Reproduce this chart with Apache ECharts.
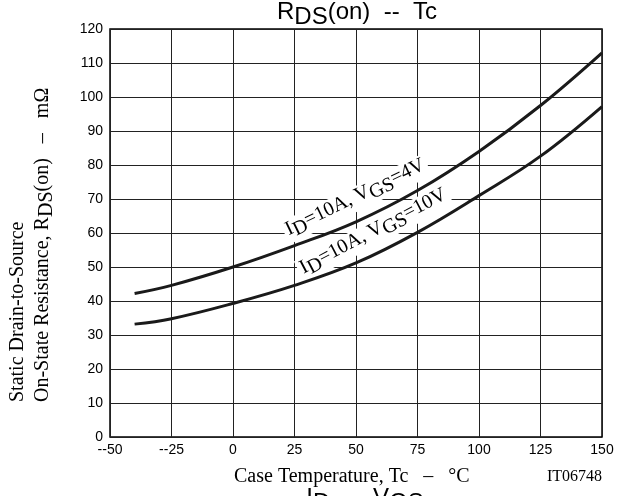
<!DOCTYPE html>
<html><head><meta charset="utf-8">
<script src="https://cdn.jsdelivr.net/npm/echarts@6/dist/echarts.min.js"></script>
<style>html,body{margin:0;padding:0;background:#fff}#c{width:627px;height:496px}</style>
</head><body><div id="c"></div>
<script>
// Data
const tempC   = [-40, -25, 0, 25, 50, 75, 100, 125, 150];
const rds4V   = [42.2, 44.6, 50, 56.3, 63.3, 72.5, 84, 97.5, 113];
const rds10V  = [33.2, 34.8, 39.3, 44.6, 51.2, 60.2, 71, 82.6, 97.2];
const xTickValues = [-50, -25, 0, 25, 50, 75, 100, 125, 150];
const xTickLabels = ['--50', '--25', '0', '25', '50', '75', '100', '125', '150'];
const yTickValues = [0, 10, 20, 30, 40, 50, 60, 70, 80, 90, 100, 110, 120];

const SERIF = '"Liberation Serif", "Times New Roman", serif';
const SANS = '"Liberation Sans", Arial, sans-serif';

function pairs(xs, ys) { return xs.map((x, i) => [x, ys[i]]); }

const chart = echarts.init(document.getElementById('c'), null, { renderer: 'canvas' });

const subRich = (size, font, shift) => ({
  n: { fontSize: size, fontFamily: font, color: '#000', padding: [0, 0, shift, 0] },
  s: { fontSize: size, fontFamily: font, color: '#000', padding: [shift, 0, 0, 0] }
});

chart.setOption({
  animation: false,
  backgroundColor: '#fff',
  grid: { left: 110, right: 25, top: 29, bottom: 59, show: true, borderColor: '#000', borderWidth: 1.5, containLabel: false },
  xAxis: {
    type: 'value', min: -50, max: 150, interval: 25,
    axisLine: { show: false }, axisTick: { show: false },
    splitLine: { show: true, lineStyle: { color: '#222', width: 1 } },
    axisLabel: {
      margin: 6, color: '#000', fontSize: 14, fontFamily: SANS,
      formatter: v => xTickLabels[xTickValues.indexOf(v)]
    }
  },
  yAxis: {
    type: 'value', min: 0, max: 120, interval: 10,
    axisLine: { show: false }, axisTick: { show: false },
    splitLine: { show: true, lineStyle: { color: '#222', width: 1 } },
    axisLabel: { margin: 7, color: '#000', fontSize: 14, fontFamily: SANS,
      formatter: v => String(yTickValues[yTickValues.indexOf(v)]) }
  },
  series: [
    { type: 'line', data: pairs(tempC, rds4V), smooth: 0.4, showSymbol: false, z: 5,
      lineStyle: { color: '#1a1a1a', width: 3 } },
    { type: 'line', data: pairs(tempC, rds10V), smooth: 0.4, showSymbol: false, z: 5,
      lineStyle: { color: '#1a1a1a', width: 3 } }
  ],
  graphic: [
    { type: 'text', x: 357, y: 0, z: 100,
      style: { text: '{n|R}{s|DS}{n|(on)  --  Tc}', align: 'center', verticalAlign: 'top',
        rich: subRich(24, SANS, 5) } },
    { type: 'text', x: 356, y: 199, rotation: 25.8 * Math.PI / 180, z: 1,
      style: { text: '{n|I}{s|D}{n|=10A, V}{s|GS}{n|=4V}', align: 'center', verticalAlign: 'middle',
        backgroundColor: '#fff', padding: [0, 3],
        rich: subRich(20, SERIF, 4) } },
    { type: 'text', x: 374, y: 233, rotation: 27.7 * Math.PI / 180, z: 1,
      style: { text: '{n|I}{s|D}{n|=10A, V}{s|GS}{n|=10V}', align: 'center', verticalAlign: 'middle',
        backgroundColor: '#fff', padding: [0, 3],
        rich: subRich(20, SERIF, 4) } },
    { type: 'text', x: 18, y: 402, rotation: Math.PI / 2,
      style: { text: 'Static Drain-to-Source', align: 'left', verticalAlign: 'middle',
        fontSize: 20, fontFamily: SERIF, fill: '#000' } },
    { type: 'text', x: 45, y: 402, rotation: Math.PI / 2,
      style: { text: '{n|On-State Resistance, R}{s|DS}{n|(on)   –   mΩ}', align: 'left', verticalAlign: 'middle',
        rich: subRich(20, SERIF, 4) } },
    { type: 'text', x: 234, y: 477,
      style: { text: 'Case Temperature, Tc   –   °C', align: 'left', verticalAlign: 'middle',
        fontSize: 20, fontFamily: SERIF, fill: '#000' } },
    { type: 'text', x: 602, y: 477,
      style: { text: 'IT06748', align: 'right', verticalAlign: 'middle',
        fontSize: 16, fontFamily: SERIF, fill: '#000' } },
    { type: 'text', x: 365, y: 486,
      style: { text: '{n|I}{s|D}{n|  --  V}{s|GS}', align: 'center', verticalAlign: 'top',
        rich: subRich(24, SANS, 5) } }
  ]
});
</script></body></html>
